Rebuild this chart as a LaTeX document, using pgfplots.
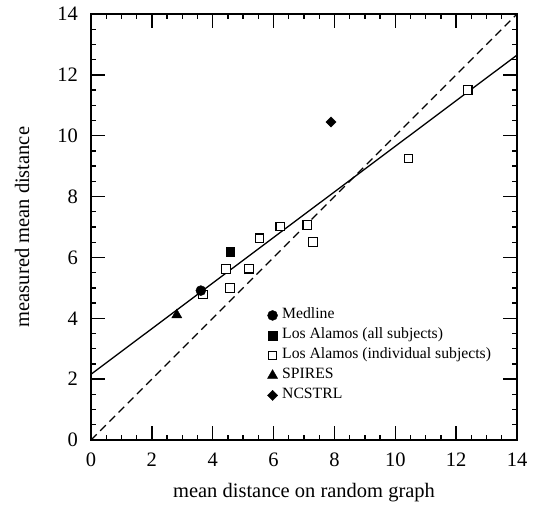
\documentclass[border=0pt]{standalone}
\usepackage{fontspec}
\setmainfont{Liberation Serif}
\usepackage{pgfplots}
\pgfplotsset{compat=1.18}
\begin{document}
\begin{tikzpicture}
\begin{axis}[
  scale only axis,
  width=426bp, height=426bp,
  xmin=0, xmax=14, ymin=0, ymax=14,
  xtick={0,2,...,14}, ytick={0,2,...,14},
  minor tick num=3,
  tick pos=both,
  tick align=inside,
  major tick length=14bp,
  minor tick length=5.5bp,
  axis line style={line width=1.6bp},
  every tick/.style={line width=1.3bp, black},
  /pgf/number format/assume math mode=true,
  ticklabel style={font=\fontsize{20.5bp}{24bp}\selectfont, inner sep=0pt},
  xticklabel style={yshift=-13bp},
  yticklabel style={xshift=-13bp},
  label style={font=\fontsize{20.5bp}{24bp}\selectfont, inner sep=0pt},
  xlabel={mean distance on random graph},
  ylabel={measured mean distance},
  xlabel style={at={(axis description cs:0.5,-0.1338)}, anchor=base},
  ylabel style={at={(axis description cs:-0.1455,0.5)}, anchor=base},
  legend style={at={(axis cs:5.80,4.34)}, anchor=north west, draw=none, fill=none,
    inner sep=0pt, outer sep=0pt, font=\fontsize{15.7bp}{18bp}\selectfont,
    row sep=5bp, column sep=4.5bp,
    nodes={inner sep=0pt, text height=11bp, text depth=4bp}},
  legend cell align=left,
  legend image code/.code={\draw[#1] plot coordinates {(0bp,0bp)};},
]
% fitted line and y = x
\addplot[forget plot, line width=1.3bp] coordinates {(0,2.16) (14,12.65)};
\addplot[forget plot, line width=1.3bp, dash pattern=on 8bp off 5bp] coordinates {(0,0) (14,14)};
% individual subjects first, so the circle sits on top
\addplot[forget plot, only marks, mark=square*, mark size=4.3bp,
  mark options={fill=white, line width=1.1bp}] coordinates {
  (3.68,4.78) (4.44,5.62) (4.57,4.99) (5.20,5.63) (5.54,6.63)
  (6.22,7.02) (7.11,7.07) (7.30,6.50) (10.43,9.25) (12.38,11.50)
};
\addplot[only marks, mark=*, mark size=5bp] coordinates {(3.61,4.91)};
\addlegendentry{Medline}
\addplot[only marks, mark=square*, mark size=4.3bp] coordinates {(4.58,6.18)};
\addlegendentry{Los Alamos (all subjects)}
\addlegendimage{only marks, mark=square*, mark size=4bp, mark options={fill=white, line width=1.1bp}}
\addlegendentry{Los Alamos (individual subjects)}
\addplot[only marks, mark=triangle*, mark size=5.8bp] coordinates {(2.82,4.11)};
\addlegendentry{SPIRES}
\addplot[only marks, mark=square*, mark size=3.6bp, mark options={rotate=45}] coordinates {(7.89,10.45)};
\addlegendentry{NCSTRL}
\end{axis}
\pgfresetboundingbox
\path[use as bounding box] (-91bp,-70bp) rectangle (445bp,440bp);
\end{tikzpicture}
\end{document}
